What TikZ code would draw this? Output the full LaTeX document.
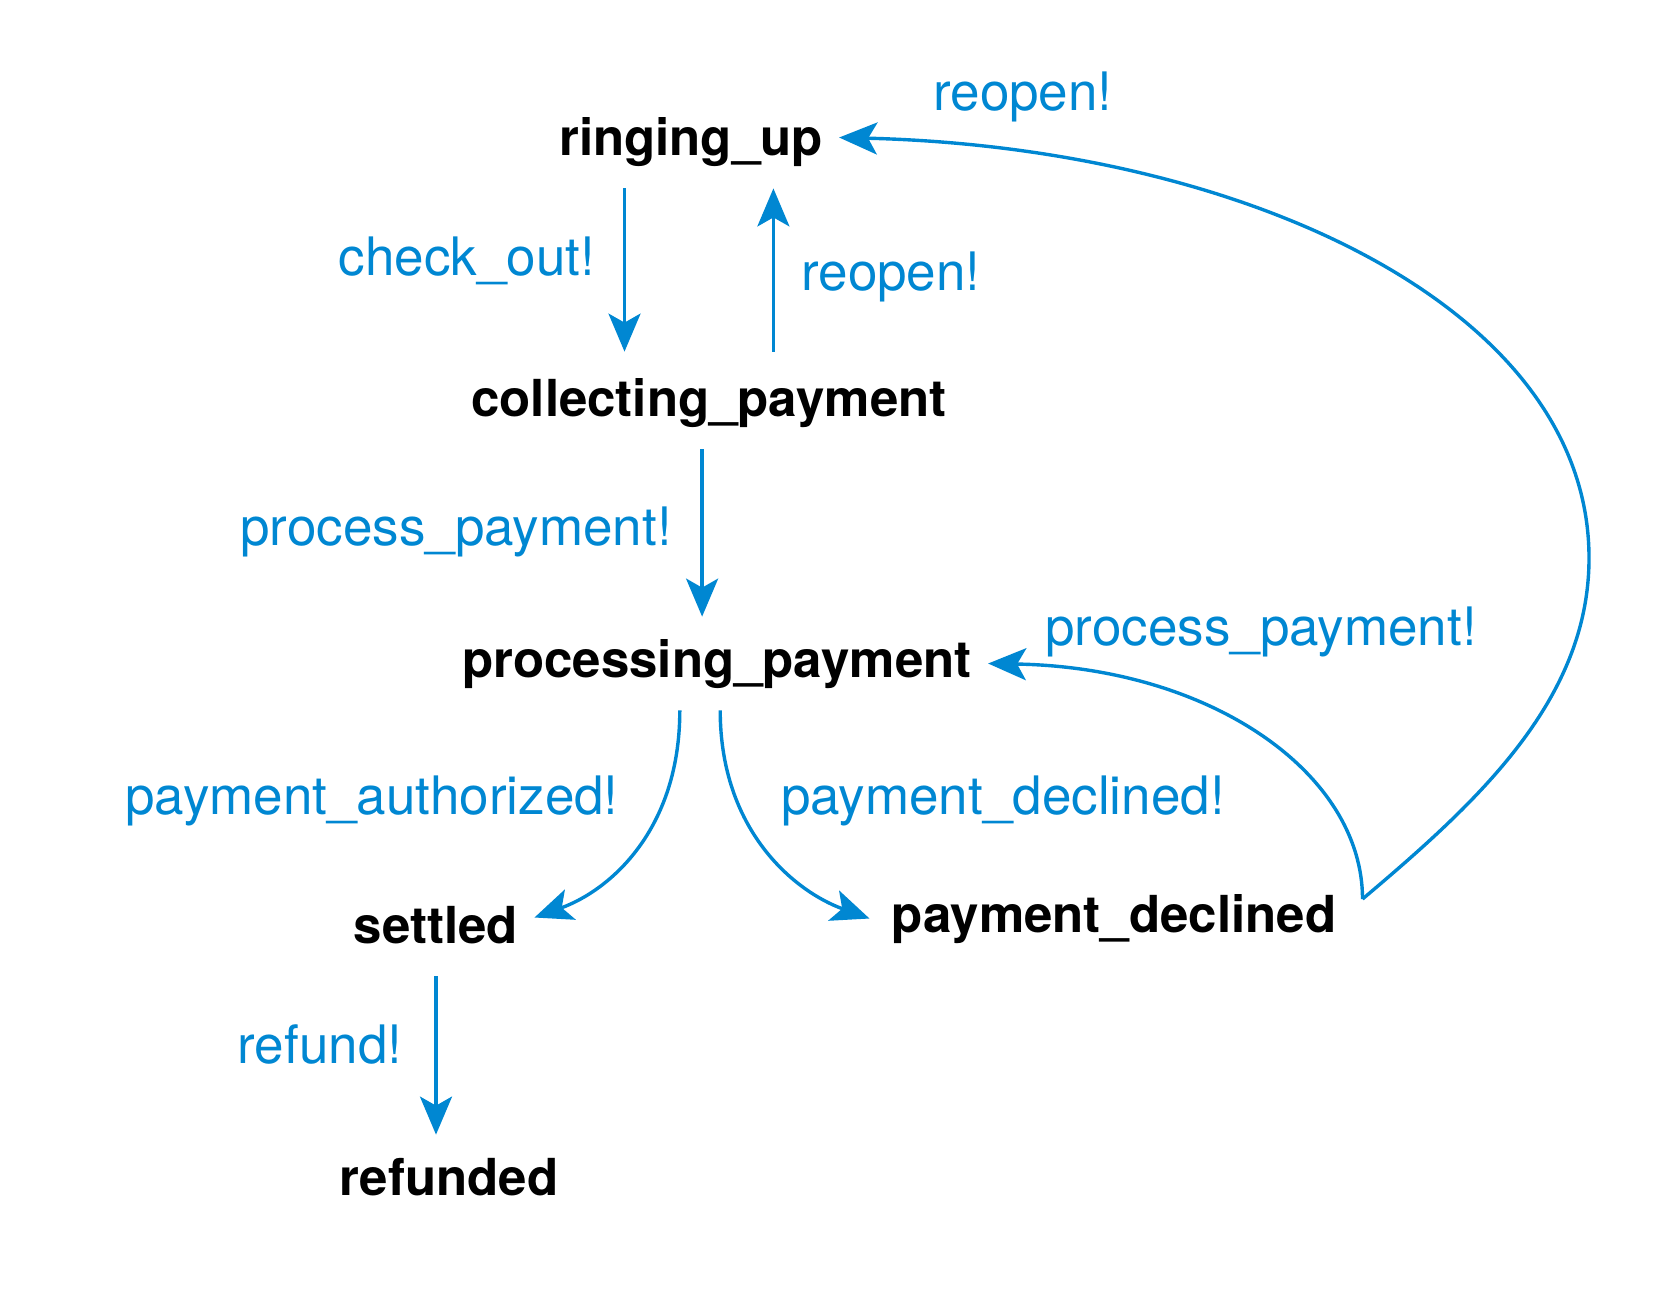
\documentclass[tikz,border=0pt]{standalone}
\usepackage{fontspec}
\setmainfont{TeX Gyre Heros}
\usepackage{xcolor}
\usetikzlibrary{arrows.meta}
\definecolor{evblue}{RGB}{0,135,210}

\begin{document}
\begin{tikzpicture}[x=0.5pt, y=-0.5pt,
  state/.style={font=\fontsize{25.5}{30}\selectfont\bfseries, anchor=base,
    inner xsep=8pt, inner ysep=10pt, text height=20pt, text depth=6.5pt},
  event/.style={font=\fontsize{26.5}{31}\selectfont, text=evblue, anchor=base, inner sep=0pt},
  edge/.style={draw=evblue, line width=1.7pt, -{Stealth[length=19pt, width=16pt, inset=4.5pt]}}]
\useasboundingbox (0,0) rectangle (1668,1298);

% Zustaende
\node[state] (ringing_up) at (691,155) {ringing\_up};
\node[state] (collecting_payment) at (709,416) {collecting\_payment};
\node[state] (processing_payment) at (717,677) {processing\_payment};
\node[state] (settled) at (436,943) {settled};
\node[state] (payment_declined) at (1114,932) {payment\_declined};
\node[state] (refunded) at (449,1195) {refunded};

% Ereignisse
\node[event] (ev_check_out) at (467,275) {check\_out!};
\node[event] (ev_reopen_a) at (891,290) {reopen!};
\node[event] (ev_reopen_b) at (1023,110) {reopen!};
\node[event] (ev_process_a) at (456,545) {process\_payment!};
\node[event] (ev_process_b) at (1261,645) {process\_payment!};
\node[event] (ev_authorized) at (372,814) {payment\_authorized!};
\node[event] (ev_declined) at (1003,814) {payment\_declined!};
\node[event] (ev_refund) at (320,1063) {refund!};

% Uebergaenge
\draw[edge] ([xshift=-33.25pt]ringing_up.south) -- ([xshift=-33.25pt, yshift=2pt]ringing_up.south |- collecting_payment.north);
\draw[edge] ([xshift=32.2pt, yshift=2pt]collecting_payment.north) -- ([xshift=32.2pt]collecting_payment.north |- ringing_up.south);
\draw[edge] ([xshift=-3.45pt]collecting_payment.south) -- ([xshift=-3.45pt]collecting_payment.south |- processing_payment.north);
\draw[edge] ([xshift=-18.6pt]processing_payment.south) .. controls +(0,120) and +(75,-27) .. ([yshift=6pt]settled.east);
\draw[edge] ([xshift=1.6pt]processing_payment.south) .. controls +(0,120) and +(-75,-27) .. ([xshift=-3pt]payment_declined.west);
\draw[edge] (settled.south) -- (settled.south |- refunded.north);

% Ruecksprung
\coordinate (retry) at ([xshift=5pt, yshift=9.75pt]payment_declined.east);
\coordinate (loop) at (1589,558);
\draw[edge] (retry) .. controls +(0,-125) and +(224,4) .. (processing_payment.east);
\draw[edge] (retry) .. controls +(115,-97) and +(0,142) .. (loop)
  .. controls +(0,-250) and +(406,10) .. ([yshift=2pt]ringing_up.east);
\end{tikzpicture}
\end{document}
